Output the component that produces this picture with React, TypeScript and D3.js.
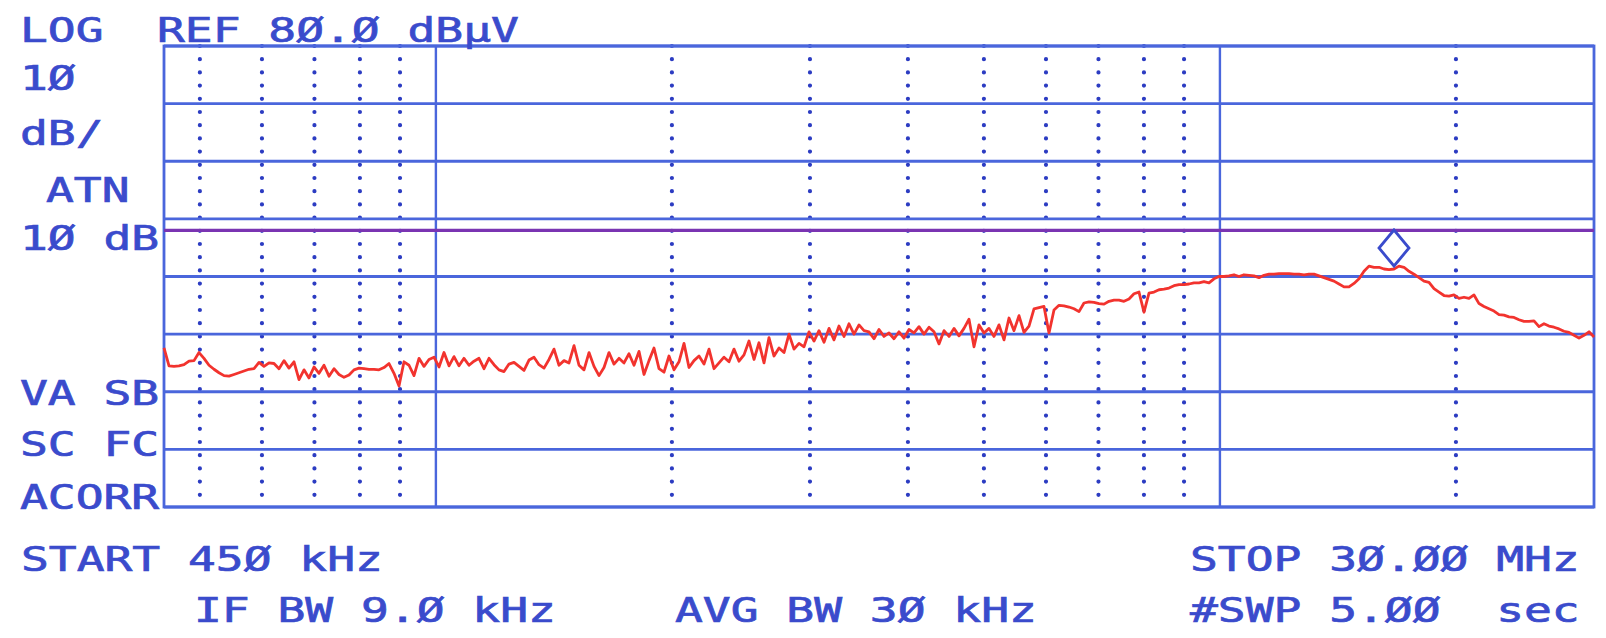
import * as d3 from 'd3';

// analyzer settings
const START_MHZ = 0.45;
const STOP_MHZ = 30;
const REF_LEVEL = 80;
const DB_PER_DIV = 10;
const DIVISIONS = 8;
const DISPLAY_LINE_DB = 48;
const MARKER_MHZ = 16.6;

// graticule
const solidFreqs = [1, 10];
const dottedFreqs = [0.5, 0.6, 0.7, 0.8, 0.9, 2, 3, 4, 5, 6, 7, 8, 9, 20];

// trace (dBµV), consecutive log-spaced sweep points, split by stretch of the sweep
const traceLow = [
  27.6, 24.5, 24.4, 24.5, 24.7, 25.3, 25.4, 26.8, 25.8, 24.6,
  23.9, 23.3, 22.8, 22.7, 23.0, 23.3, 23.6, 23.9, 24.0, 25.1,
  24.4, 25.0, 24.9, 24.0, 25.4, 24.1, 25.2, 22.1, 23.8, 22.4,
  24.3, 23.2, 24.6, 22.7, 24.0, 23.0, 22.5, 22.9, 23.8, 24.1,
  24.0, 23.9, 23.9, 23.8, 24.2, 24.9, 23.2, 21.0, 25.2, 24.6,
  22.8, 25.8, 24.4, 25.6, 26.0, 24.3, 26.8, 24.5, 26.1, 24.5,
  25.8, 24.6, 25.3, 25.8, 24.0, 25.8, 24.7, 23.8, 23.5, 24.8,
  25.1, 24.4, 23.7, 25.5, 26.0, 24.7, 24.1, 25.6, 27.4, 24.6,
  25.4,
];
const traceMid = [
  25.0, 28.0, 24.6, 23.8, 26.8, 24.4, 22.8, 24.2, 26.8, 24.8,
  25.8, 25.0, 26.6, 24.6, 27.0, 23.0, 25.4, 27.6, 24.0, 23.4,
  26.2, 23.8, 25.2, 28.4, 24.2, 25.4, 26.2, 24.8, 27.4, 24.0,
  25.0, 26.0, 25.2, 27.4, 25.3, 26.4, 28.8, 25.6, 28.5, 25.0,
  29.4, 26.2, 27.6, 26.8, 30.0, 27.4, 28.4, 27.8, 30.4, 28.8,
  30.6, 28.6, 31.0, 29.0, 31.4, 29.6, 31.8, 30.0, 31.6, 30.6,
  30.4, 29.2, 30.8, 29.6, 30.2, 29.2, 30.4, 29.3, 30.8, 30.2,
  31.3, 30.0, 31.2, 30.4, 28.3, 30.6, 29.6, 31.0, 29.7, 31.0,
  32.6, 27.8,
];
const traceHigh = [
  31.6, 30.2, 31.0, 29.6, 31.6, 29.0, 32.8, 30.6, 33.2, 30.3,
  31.4, 34.4, 34.6, 34.8, 30.2, 34.2, 35.0, 34.9, 34.7, 34.4,
  33.9, 35.4, 35.6, 35.5, 35.3, 35.2, 35.7, 35.9, 35.9, 35.7,
  36.1, 37.0, 37.3, 33.8, 37.1, 37.3, 37.7, 37.8, 38.0, 38.4,
  38.6, 38.6, 38.7, 38.9, 38.9, 39.1, 38.9, 39.6, 40.0, 40.0,
  40.1, 40.3, 40.0, 40.3, 40.2, 40.1, 39.8, 40.2, 40.4, 40.4,
  40.5, 40.5, 40.5, 40.4, 40.4, 40.3, 40.4, 40.4, 40.1, 39.8,
  39.5, 39.2, 38.7, 38.2, 38.2, 38.8, 39.6, 40.9, 41.8, 41.6,
  41.6,
];
const traceTop = [
  41.3, 41.2, 41.3, 41.8, 41.6, 40.9, 40.4, 39.8, 39.2, 39.0,
  37.9, 37.3, 36.7, 36.6, 36.8, 36.2, 36.4, 36.2, 36.8, 35.3,
  34.8, 34.4, 34.0, 33.4, 33.3, 33.0, 32.9, 32.5, 32.2, 32.2,
  32.3, 31.3, 31.8, 31.4, 31.2, 30.9, 30.5, 30.3, 29.8, 29.3,
  29.8, 30.4, 29.5,
];

// annotation texts
const leftLabels = ['LOG', '1Ø', 'dB/', 'ATN', '1Ø dB', 'VA SB', 'SC FC', 'ACORR'];
const refLabel = 'REF 8Ø.Ø dBµV';
const bottomLabels = ['START 45Ø kHz', 'IF BW 9.Ø kHz', 'AVG BW 3Ø kHz', 'STOP 3Ø.ØØ MHz', '#SWP 5.ØØ  sec'];

const W = 1606;
const H = 638;
const LEFT = 164;
const RIGHT = 1594;
const TOP = 46;
const BOTTOM = 507;

const GRID = '#4a66dc';
const DOTS = '#2c3cc2';
const INK = '#3a4bcc';
const TRACE = '#f2332e';
const LIMIT = '#7a34b2';

function PlotterText({ x, y, text }: { x: number; y: number; text: string }) {
  return (
    <text
      transform={`translate(${x},${y}) scale(1.36,1)`}
      fontFamily="'DejaVu Sans Mono', monospace"
      fontSize={34}
      fill={INK}
      stroke={INK}
      strokeWidth={0.7}
      style={{ whiteSpace: 'pre' }}
    >
      {text}
    </text>
  );
}

export default function App() {
  const x = d3.scaleLog().domain([START_MHZ, STOP_MHZ]).range([LEFT, RIGHT]);
  const y = d3
    .scaleLinear()
    .domain([REF_LEVEL - DIVISIONS * DB_PER_DIV, REF_LEVEL])
    .range([BOTTOM, TOP]);

  const levels = [...traceLow, ...traceMid, ...traceHigh, ...traceTop];
  const n = levels.length;
  // log sweep: point i sits at START * (STOP/START)^(i/(n-1))
  const points = levels.map((db, i) => ({
    f: START_MHZ * Math.pow(STOP_MHZ / START_MHZ, i / (n - 1)),
    db,
  }));

  const line = d3
    .line<{ f: number; db: number }>()
    .x(d => x(d.f))
    .y(d => y(d.db));

  const hLines = d3.range(REF_LEVEL - DIVISIONS * DB_PER_DIV, REF_LEVEL + 1, DB_PER_DIV);

  // marker sits on the nearest sweep point
  const mk = points.reduce((a, b) =>
    Math.abs(Math.log(b.f / MARKER_MHZ)) < Math.abs(Math.log(a.f / MARKER_MHZ)) ? b : a
  );
  const mx = x(mk.f);
  const my = y(mk.db) - 3;
  const diamond = `M${mx},${my} L${mx + 15},${my - 18} L${mx},${my - 36} L${mx - 15},${my - 18} Z`;

  const leftY = [42, 90, 145, 202, 250, 405, 456, 509];
  const leftX = [20, 20, 20, 46, 20, 20, 20, 20];
  const bottomPos = [
    [21, 571],
    [194, 622],
    [675, 622],
    [1190, 571],
    [1190, 622],
  ];

  return (
    <div style={{ position: 'absolute', left: 0, top: 0, background: '#fff' }}>
      <svg width={W} height={H} viewBox={`0 0 ${W} ${H}`} style={{ display: 'block', background: '#fff' }}>
        {dottedFreqs.map(f => (
          <line
            key={'d' + f}
            x1={x(f)}
            x2={x(f)}
            y1={TOP}
            y2={BOTTOM}
            stroke={DOTS}
            strokeWidth={4.2}
            strokeLinecap="round"
            strokeDasharray="0 13.2"
          />
        ))}
        {hLines.map(v => (
          <line key={'h' + v} x1={LEFT} x2={RIGHT} y1={y(v)} y2={y(v)} stroke={GRID} strokeWidth={2.8} />
        ))}
        {solidFreqs.map(f => (
          <line key={'s' + f} x1={x(f)} x2={x(f)} y1={TOP} y2={BOTTOM} stroke={GRID} strokeWidth={2.4} />
        ))}
        <rect
          x={LEFT}
          y={TOP}
          width={RIGHT - LEFT}
          height={BOTTOM - TOP}
          fill="none"
          stroke={GRID}
          strokeWidth={2.8}
        />
        <line
          x1={LEFT}
          x2={RIGHT}
          y1={y(DISPLAY_LINE_DB)}
          y2={y(DISPLAY_LINE_DB)}
          stroke={LIMIT}
          strokeWidth={3.2}
        />
        <path d={line(points) || ''} fill="none" stroke={TRACE} strokeWidth={2.8} strokeLinejoin="round" />
        <path d={diamond} fill="none" stroke={INK} strokeWidth={2.8} />

        {leftLabels.map((t, i) => (
          <PlotterText key={t + i} x={leftX[i]} y={leftY[i]} text={t} />
        ))}
        <PlotterText x={157} y={42} text={refLabel} />
        {bottomLabels.map((t, i) => (
          <PlotterText key={t} x={bottomPos[i][0]} y={bottomPos[i][1]} text={t} />
        ))}
      </svg>
    </div>
  );
}
